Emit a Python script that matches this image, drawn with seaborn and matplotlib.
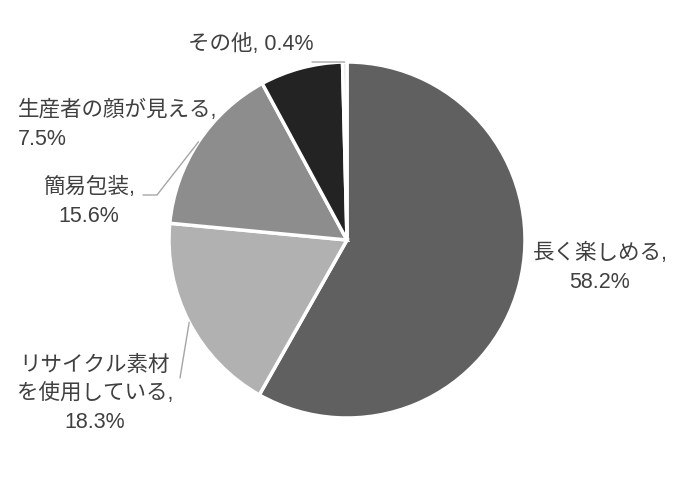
import numpy as np
import matplotlib
matplotlib.use("Agg")
import matplotlib.pyplot as plt
import seaborn as sns

# データ
labels = ["長く楽しめる,\n58.2%", "リサイクル素材\nを使用している,\n18.3%", "簡易包装,\n15.6%",
          "生産者の顔が見える,\n7.5%", "その他, 0.4%"]
values = [58.2, 18.3, 15.6, 7.5, 0.4]
colors = ["#606060", "#b1b1b1", "#8d8d8d", "#232323", "#e0e0e0"]

sns.set_theme(style="white")
plt.rcParams["font.family"] = ["Liberation Sans", "Noto Sans CJK JP", "DejaVu Sans"]

R = 178.0  # 半径 (px)
CX, CY = 347.0, 240.0


def px(x, y):
    """ピクセル座標をデータ座標へ"""
    return (x - CX) / R, (CY - y) / R


fig = plt.figure(figsize=(7, 4.9), dpi=100)
ax = fig.add_axes([0, 0, 1, 1])
wedges, _ = ax.pie(values, colors=colors, startangle=90, counterclock=False,
                   radius=1, wedgeprops=dict(edgecolor="white", linewidth=2.5))
ax.set_xlim(-CX / R, (700 - CX) / R)
ax.set_ylim(-(490 - CY) / R, CY / R)
ax.set_aspect("equal")
ax.axis("off")

# ラベル位置 (テキスト中心, ピクセル)
text_pos = [(600, 268), (95, 394), (89, 202), (18, 125), (251, 45)]
align = ["center", "center", "center", "left", "center"]
# 引き出し線の終点 (ピクセル), None は線なし
leader = [None, [(180, 378)], [(157, 195), (143, 195)], None, [(312, 62)]]

for w, lab, pos, ha, ld in zip(wedges, labels, text_pos, align, leader):
    tx, ty = px(*pos)
    ax.text(tx, ty, lab, ha=ha, va="center", fontsize=15.5, color="#404040",
            linespacing=1.5)
    if ld is not None:
        mid = np.deg2rad((w.theta1 + w.theta2) / 2)
        pts = [(np.cos(mid), np.sin(mid))] + [px(*p) for p in ld]
        xs, ys = zip(*pts)
        ax.plot(xs, ys, color="#a6a6a6", lw=1)

fig.savefig("out.png", dpi=100, facecolor="white")
